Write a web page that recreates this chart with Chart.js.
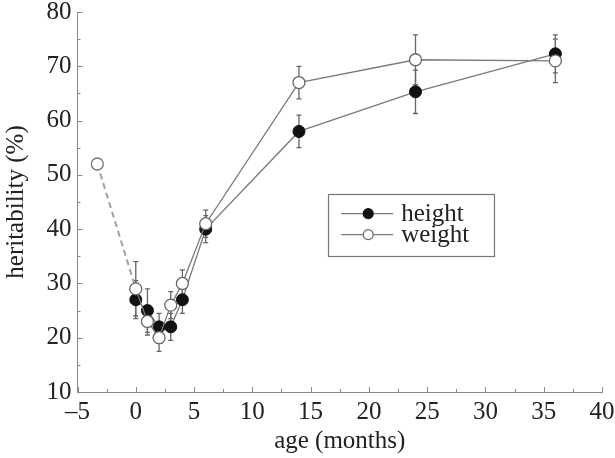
<!DOCTYPE html>
<html>
<head>
<meta charset="utf-8">
<script src="https://cdn.jsdelivr.net/npm/chart.js@4.4.1/dist/chart.umd.min.js"></script>
<style>
html,body{margin:0;padding:0;background:#fff;}
#wrap{width:615px;height:458px;position:relative;}
</style>
</head>
<body>
<div id="wrap"><canvas id="c" width="615" height="458"></canvas></div>
<script>
// ---- data ----
const ages = [0, 1, 2, 3, 4, 6, 14, 24, 36];
const heightVals = [27, 25, 22, 22, 27, 40, 58, 65.3, 72.3];
const heightErr  = [3.5, 4, 2.5, 2.5, 2.5, 2.5, 3, 4, 3.5];
const weightVals = [29, 23, 20, 26, 30, 41, 67, 71.2, 71];
const weightErr  = [5, 2.5, 2.5, 2.5, 2.5, 2.5, 3, 4.6, 4];
const prenatalAge = [-3.3, 0];
const prenatalWeight = [52, 29];
const seriesLabels = ['height', 'weight'];
const xTicks = [-5, 0, 5, 10, 15, 20, 25, 30, 35, 40];
const yTicks = [10, 20, 30, 40, 50, 60, 70, 80];

const FONT = "'Liberation Serif', 'Times New Roman', serif";
const LINE = '#7a7a7a';
const BAR = '#666';

const toPts = (xs, ys) => xs.map((x, i) => ({x: x, y: ys[i]}));

const errorBars = {
  id: 'errorBars',
  beforeDatasetsDraw(chart) {
    const ctx = chart.ctx, xs = chart.scales.x, ys = chart.scales.y;
    const sets = [[heightVals, heightErr], [weightVals, weightErr]];
    ctx.save();
    ctx.strokeStyle = BAR;
    ctx.lineWidth = 1.3;
    sets.forEach(([vals, errs]) => {
      ages.forEach((a, i) => {
        const px = xs.getPixelForValue(a);
        const t = ys.getPixelForValue(vals[i] + errs[i]);
        const b = ys.getPixelForValue(vals[i] - errs[i]);
        ctx.beginPath();
        ctx.moveTo(px, t); ctx.lineTo(px, b);
        ctx.moveTo(px - 2.5, t); ctx.lineTo(px + 2.5, t);
        ctx.moveTo(px - 2.5, b); ctx.lineTo(px + 2.5, b);
        ctx.stroke();
      });
    });
    ctx.restore();
  }
};

const innerTicks = {
  id: 'innerTicks',
  afterDraw(chart) {
    const ctx = chart.ctx, xs = chart.scales.x, ys = chart.scales.y;
    const a = chart.chartArea;
    ctx.save();
    ctx.strokeStyle = '#888';
    ctx.lineWidth = 1;
    for (let v = xs.min; v <= xs.max + 0.001; v += 2.5) {
      const p = Math.round(xs.getPixelForValue(v)) + 0.5;
      const major = Math.abs(v % 5) < 0.001;
      ctx.beginPath(); ctx.moveTo(p, a.bottom); ctx.lineTo(p, a.bottom - (major ? 5 : 3)); ctx.stroke();
    }
    for (let v = ys.min; v <= ys.max + 0.001; v += 5) {
      const p = Math.round(ys.getPixelForValue(v)) + 0.5;
      const major = Math.abs(v % 10) < 0.001;
      ctx.beginPath(); ctx.moveTo(a.left, p); ctx.lineTo(a.left + (major ? 5 : 3), p); ctx.stroke();
    }
    ctx.restore();
  }
};

const boxLegend = {
  id: 'boxLegend',
  afterDraw(chart) {
    const ctx = chart.ctx, a = chart.chartArea;
    const bx = a.left + (a.right - a.left) * 0.478;
    const by = a.top + (a.bottom - a.top) * 0.478;
    const bw = 166, bh = 62;
    ctx.save();
    ctx.fillStyle = '#fff';
    ctx.fillRect(bx, by, bw, bh);
    ctx.strokeStyle = '#777';
    ctx.lineWidth = 1.2;
    ctx.strokeRect(Math.round(bx) + 0.5, Math.round(by) + 0.5, bw, bh);
    const rows = [20, 41];
    seriesLabels.forEach((lab, i) => {
      const ds = chart.data.datasets[i];
      const yy = by + rows[i];
      ctx.strokeStyle = LINE; ctx.lineWidth = 1.3;
      ctx.beginPath(); ctx.moveTo(bx + 13, yy); ctx.lineTo(bx + 65, yy); ctx.stroke();
      ctx.beginPath(); ctx.arc(bx + 40, yy, 5, 0, Math.PI * 2);
      ctx.fillStyle = ds.pointBackgroundColor; ctx.fill();
      ctx.strokeStyle = ds.pointBorderColor; ctx.lineWidth = 1.2; ctx.stroke();
      ctx.fillStyle = '#222';
      ctx.font = '25px ' + FONT;
      ctx.textBaseline = 'middle';
      ctx.fillText(lab, bx + 73, yy + 1);
    });
    ctx.restore();
  }
};

new Chart(document.getElementById('c'), {
  type: 'scatter',
  data: {
    datasets: [
      {
        label: seriesLabels[0],
        data: toPts(ages, heightVals),
        showLine: true,
        borderColor: LINE, borderWidth: 1.3,
        pointRadius: 6, pointBackgroundColor: '#111', pointBorderColor: '#111', pointBorderWidth: 1,
        order: 1
      },
      {
        label: seriesLabels[1],
        data: toPts(ages, weightVals),
        showLine: true,
        borderColor: LINE, borderWidth: 1.3,
        pointRadius: 6, pointBackgroundColor: '#fff', pointBorderColor: '#666', pointBorderWidth: 1.3,
        order: 0
      },
      {
        label: 'prenatal',
        data: toPts(prenatalAge, prenatalWeight),
        showLine: true,
        borderColor: '#a0a0a0', borderWidth: 2, borderDash: [6, 4],
        pointRadius: [6, 0], pointBackgroundColor: '#fff', pointBorderColor: '#777', pointBorderWidth: 1.3,
        order: 2
      }
    ]
  },
  options: {
    responsive: false,
    animation: false,
    layout: {padding: {top: 12, right: 13, left: 0, bottom: 0}},
    plugins: {legend: {display: false}, tooltip: {enabled: false}},
    scales: {
      x: {
        type: 'linear', min: -5, max: 40,
        afterBuildTicks: s => { s.ticks = xTicks.map(v => ({value: v})); },
        afterFit: s => { s.height = 66; s.paddingLeft = 0; s.paddingRight = 0; },
        grid: {display: true, drawOnChartArea: false, drawTicks: false},
        border: {display: true, color: '#888', width: 1},
        ticks: {
          padding: 5, color: '#222', font: {family: FONT, size: 25},
          callback: v => String(v).replace('-', '\u2013')
        },
        title: {display: true, text: 'age (months)', color: '#222', font: {family: FONT, size: 25}, padding: {top: 0, bottom: 2}}
      },
      y: {
        type: 'linear', min: 10, max: 80,
        afterBuildTicks: s => { s.ticks = yTicks.map(v => ({value: v})); },
        afterFit: s => { s.width = 77.5; s.paddingTop = 0; s.paddingBottom = 0; },
        grid: {display: true, drawOnChartArea: false, drawTicks: false},
        border: {display: true, color: '#888', width: 1},
        ticks: {padding: 6, color: '#222', font: {family: FONT, size: 25}},
        title: {display: true, text: 'heritability (%)', color: '#222', font: {family: FONT, size: 25}, padding: {top: 1, bottom: 0}}
      }
    }
  },
  plugins: [errorBars, innerTicks, boxLegend]
});
</script>
</body>
</html>
